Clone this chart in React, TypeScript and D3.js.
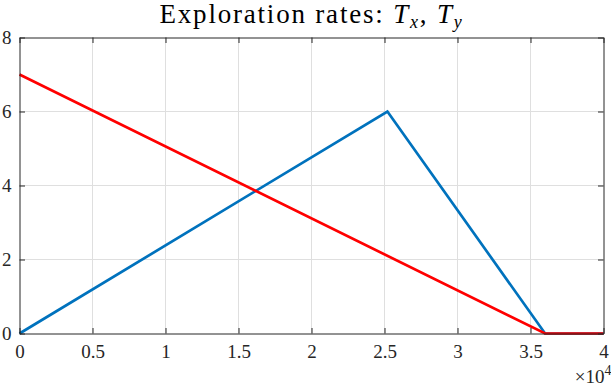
import React, { useEffect, useRef } from 'react';
import * as d3 from 'd3';

// x in units of 1e4 (axis shows multiplier)
const xTicks = [0, 0.5, 1, 1.5, 2, 2.5, 3, 3.5, 4];
const yTicks = [0, 2, 4, 6, 8];
const blueX = [0, 2.52, 3.6, 4];
const blueY = [0, 6, 0, 0];
const redX = [0, 3.6, 4];
const redY = [7, 0, 0];

const W = 611;
const H = 386;
const FONT = '"Liberation Serif", "DejaVu Serif", serif';

export default function App() {
  const svgRef = useRef<SVGSVGElement>(null);

  useEffect(() => {
    const svg = d3.select(svgRef.current);
    svg.selectAll('*').remove();

    const margin = { top: 37.5, right: 7.5, bottom: 52.5, left: 19.5 };
    const iw = W - margin.left - margin.right;
    const ih = H - margin.top - margin.bottom;

    const x = d3.scaleLinear().domain([0, 4]).range([0, iw]);
    const y = d3.scaleLinear().domain([0, 8]).range([ih, 0]);

    const g = svg.append('g').attr('transform', `translate(${margin.left},${margin.top})`);

    // grid
    g.append('g')
      .selectAll('line')
      .data(xTicks.slice(1, -1))
      .join('line')
      .attr('x1', d => x(d)).attr('x2', d => x(d))
      .attr('y1', 0).attr('y2', ih)
      .attr('stroke', '#dfdfdf').attr('stroke-width', 1);
    g.append('g')
      .selectAll('line')
      .data(yTicks.slice(1, -1))
      .join('line')
      .attr('x1', 0).attr('x2', iw)
      .attr('y1', d => y(d)).attr('y2', d => y(d))
      .attr('stroke', '#dfdfdf').attr('stroke-width', 1);

    // lines
    const line = d3.line<[number, number]>()
      .x(d => x(d[0]))
      .y(d => y(d[1]));

    g.append('path')
      .datum(blueX.map((v, i) => [v, blueY[i]] as [number, number]))
      .attr('fill', 'none')
      .attr('stroke', '#0072BD')
      .attr('stroke-width', 2.7)
      .attr('d', line);

    g.append('path')
      .datum(redX.map((v, i) => [v, redY[i]] as [number, number]))
      .attr('fill', 'none')
      .attr('stroke', '#FF0000')
      .attr('stroke-width', 2.7)
      .attr('d', line);

    // axes (box with inward ticks)
    const tickLen = 5.5;
    const axisColor = '#262626';

    const bottom = g.append('g').attr('transform', `translate(0,${ih})`)
      .call(d3.axisBottom(x).tickValues(xTicks).tickSizeInner(-tickLen).tickSizeOuter(0).tickPadding(11)
        .tickFormat(d => String(d)));
    const topAx = g.append('g')
      .call(d3.axisTop(x).tickValues(xTicks).tickSizeInner(-tickLen).tickSizeOuter(0).tickFormat(() => ''));
    const left = g.append('g')
      .call(d3.axisLeft(y).tickValues(yTicks).tickSizeInner(-tickLen).tickSizeOuter(0).tickPadding(8)
        .tickFormat(d => String(d)));
    const right = g.append('g').attr('transform', `translate(${iw},0)`)
      .call(d3.axisRight(y).tickValues(yTicks).tickSizeInner(-tickLen).tickSizeOuter(0).tickFormat(() => ''));

    [bottom, topAx, left, right].forEach(a => {
      a.attr('font-family', FONT).attr('font-size', 19);
      a.select('.domain').attr('stroke', axisColor).attr('stroke-width', 1);
      a.selectAll('.tick line').attr('stroke', axisColor).attr('stroke-width', 1);
      a.selectAll('text').attr('fill', '#262626');
    });

    // exponent label
    const ex = g.append('text')
      .attr('x', iw + 8)
      .attr('y', ih + 49)
      .attr('text-anchor', 'end')
      .attr('fill', '#262626')
      .attr('font-family', FONT)
      .attr('font-size', 19);
    ex.append('tspan').text('×10');
    ex.append('tspan').attr('dy', -8).attr('font-size', 14).text('4');

    // title
    const t = svg.append('text')
      .attr('x', margin.left + iw / 2)
      .attr('y', 23)
      .attr('text-anchor', 'middle')
      .attr('fill', '#000')
      .attr('font-family', FONT)
      .attr('font-size', 27)
      .style('letter-spacing', '1.8px');
    t.append('tspan').text('Exploration rates: ');
    t.append('tspan').style('font-style', 'italic').text('T');
    t.append('tspan').attr('dy', 5).style('font-style', 'italic').attr('font-size', 18).text('x');
    t.append('tspan').attr('dy', -5).text(', ');
    t.append('tspan').style('font-style', 'italic').text('T');
    t.append('tspan').attr('dy', 5).style('font-style', 'italic').attr('font-size', 18).text('y');
  }, []);

  return (
    <svg
      ref={svgRef}
      width={W}
      height={H}
      style={{ position: 'absolute', left: 0, top: 0, background: '#fff' }}
    />
  );
}
